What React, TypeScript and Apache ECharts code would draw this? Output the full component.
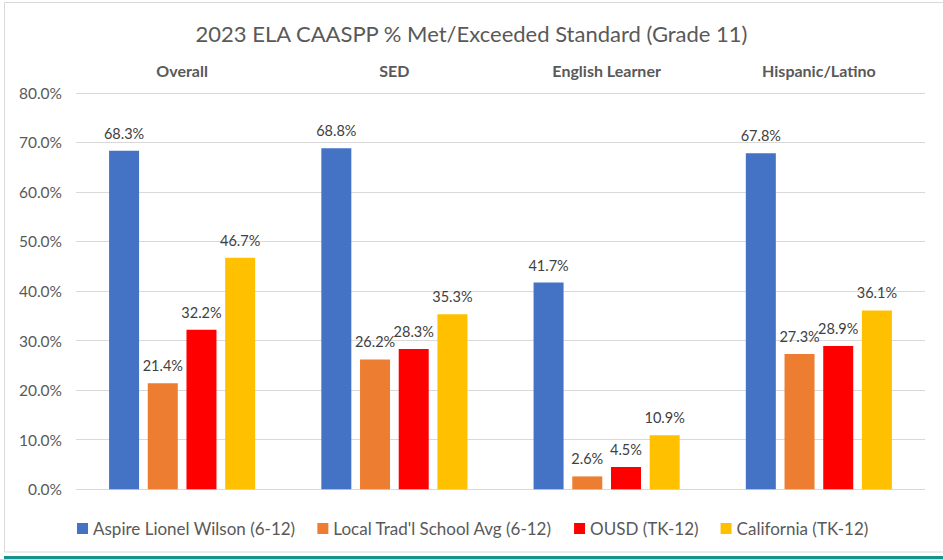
import React, { useEffect, useRef } from "react";
import * as echarts from "echarts";

const categories = ["Overall", "SED", "English Learner", "Hispanic/Latino"];
const seriesNames = [
  "Aspire Lionel Wilson (6-12)",
  "Local Trad'l School Avg (6-12)",
  "OUSD (TK-12)",
  "California (TK-12)",
];
const aspire = [68.3, 68.8, 41.7, 67.8];
const localAvg = [21.4, 26.2, 2.6, 27.3];
const ousd = [32.2, 28.3, 4.5, 28.9];
const california = [46.7, 35.3, 10.9, 36.1];
const colors = ["#4472C4", "#ED7D31", "#FF0000", "#FFC000"];
const yTicks = { min: 0, max: 80, interval: 10 };

const FONT = "Lato, 'Noto Sans', sans-serif";

export default function App() {
  const ref = useRef<HTMLDivElement>(null);
  useEffect(() => {
    if (!ref.current) return;
    const chart = echarts.init(ref.current, undefined, { renderer: "svg" });
    const values = [aspire, localAvg, ousd, california];
    chart.setOption({
      animation: false,
      backgroundColor: "#ffffff",
      title: {
        text: "2023 ELA CAASPP % Met/Exceeded Standard (Grade 11)",
        left: "center",
        top: 17,
        textStyle: { fontFamily: FONT, fontSize: 22, fontWeight: "normal", color: "#595959" },
      },
      graphic: [
        {
          type: "rect",
          shape: { x: 4.5, y: 2.5, width: 950, height: 549.5 },
          style: { fill: "none", stroke: "#d9d9d9", lineWidth: 1 },
          silent: true,
        },
        {
          type: "rect",
          shape: { x: 4, y: 556, width: 939, height: 3 },
          style: { fill: "#17918a" },
          silent: true,
        },
      ],
      legend: {
        top: 515,
        left: 72,
        itemWidth: 11,
        itemHeight: 11,
        itemGap: 22,
        icon: "rect",
        textStyle: { fontFamily: FONT, fontSize: 17, color: "#595959" },
        data: seriesNames,
      },
      grid: { left: 76, right: 18, top: 92.8, bottom: 69.7, containLabel: false },
      xAxis: {
        type: "category",
        position: "top",
        data: categories,
        axisLine: { show: false },
        axisTick: { show: false },
        axisLabel: {
          margin: 14,
          fontFamily: FONT,
          fontSize: 16,
          fontWeight: "bold",
          color: "#595959",
        },
      },
      yAxis: {
        type: "value",
        min: yTicks.min,
        max: yTicks.max,
        interval: yTicks.interval,
        axisLine: { show: false },
        axisTick: { show: false },
        axisLabel: {
          margin: 14,
          fontFamily: FONT,
          fontSize: 15.5,
          color: "#595959",
          formatter: (v: number) => v.toFixed(1) + "%",
        },
        splitLine: { lineStyle: { color: "#d9d9d9", width: 1 } },
      },
      series: seriesNames.map((name, i) => ({
        name,
        type: "bar",
        data: values[i],
        barWidth: 30,
        barGap: "29%",
        itemStyle: { color: colors[i] },
        label: {
          show: true,
          position: "top",
          distance: 10,
          fontFamily: FONT,
          fontSize: 14.5,
          color: "#404040",
          formatter: (p: any) => p.value.toFixed(1) + "%",
        },
      })),
    });
    return () => chart.dispose();
  }, []);
  return (
    <div
      ref={ref}
      style={{ position: "fixed", left: 0, top: 0, width: 943, height: 559 }}
    />
  );
}
